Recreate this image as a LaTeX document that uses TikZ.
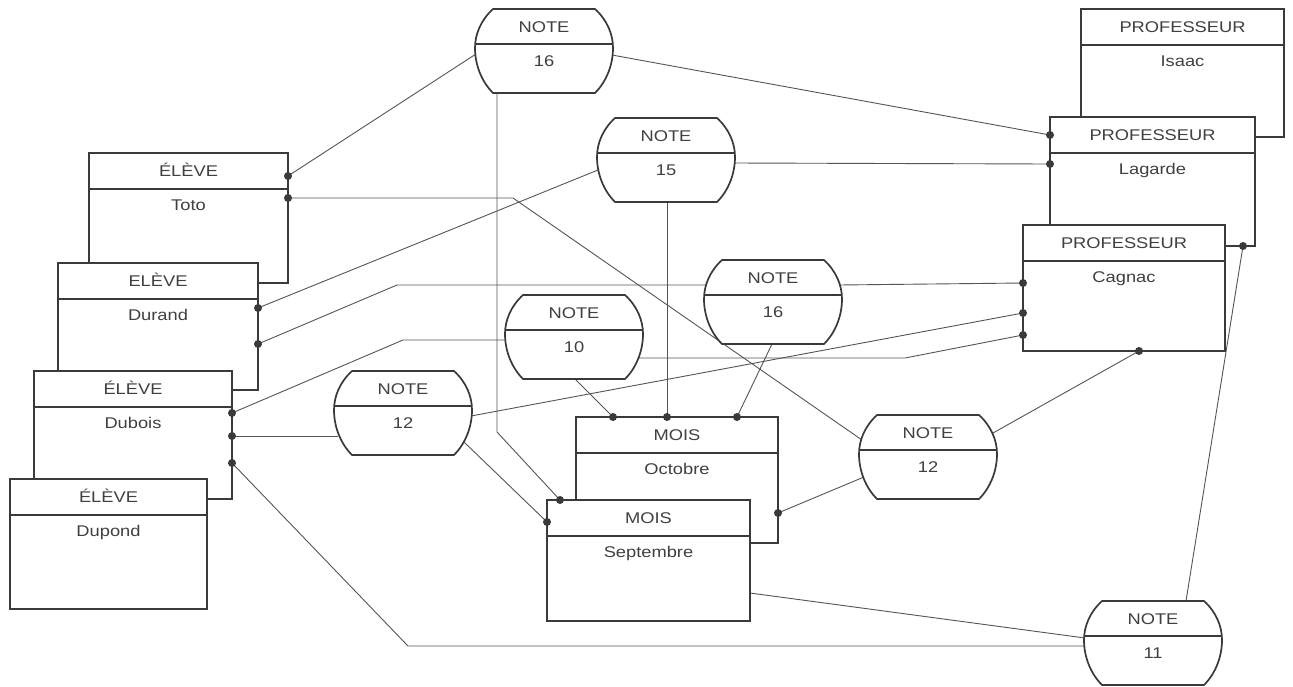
\documentclass[tikz,border=0pt]{standalone}
\usepackage{fontspec}
\setmainfont{Liberation Sans}[FakeStretch=1.18]
\usetikzlibrary{calc}
\pgfdeclarelayer{bg}
\pgfsetlayers{bg,main}
\definecolor{linec}{HTML}{3A3A3A}
\definecolor{connc}{HTML}{555555}
\definecolor{txtc}{HTML}{404040}
\tikzset{
  ebox/.style={draw=linec, line width=1.7, fill=white, rectangle, inner sep=0, outer sep=0, anchor=north west},
  divline/.style={draw=linec, line width=1.1},
  nbord/.style={draw=linec, line width=1.7, fill=white},
  narea/.style={minimum width=138, minimum height=84, inner sep=0, outer sep=0},
  etxt/.style={font=\fontsize{15.5}{18}\selectfont, text=txtc, inner sep=0, anchor=base},
  conn/.style={draw=connc, line width=0.9},
  dotc/.style={fill=linec},
}
\newcommand\mkent[7]{%
  \node[ebox, minimum width={#4-#2}, minimum height={#5-#3}] (#1) at (#2,#3) {};
  \draw[divline] ($(#1.north west)+(0,36)$) -- ($(#1.north east)+(0,36)$);
  \node[etxt] (#1-t) at ($(#1.north)+(0,23)$) {#6};
  \node[etxt] (#1-v) at ($(#1.north)+(0,57)$) {#7};
}
\newcommand\mknote[4]{%
  \node[narea] (#1) at (#2,#3) {};
  \begin{scope}[shift={(#2,#3)}]
    \draw[nbord] (-51,-42) -- (51,-42) .. controls (63,-31) and (69,-17) .. (69,-3)
      .. controls (69,13) and (63,30) .. (51,42) -- (-51,42)
      .. controls (-63,30) and (-69,13) .. (-69,-3)
      .. controls (-69,-17) and (-63,-31) .. cycle;
    \draw[divline] (-68.7,-7) -- (68.7,-7);
    \node[etxt] (#1-t) at (0,-19) {NOTE};
    \node[etxt] (#1-v) at (0,15) {#4};
  \end{scope}
}
\begin{document}
\begin{tikzpicture}[x=1pt,y=-1pt]
\useasboundingbox (0,0) rectangle (1293,686);
\begin{pgfonlayer}{bg}
  \fill[white] (0,0) rectangle (1293,686);
\end{pgfonlayer}
% ELEVE stack
\mkent{toto}{89}{153}{288}{283}{ÉLÈVE}{Toto}
\mkent{durand}{58}{263}{258}{390}{ELÈVE}{Durand}
\mkent{dubois}{34}{371}{232}{499}{ÉLÈVE}{Dubois}
\mkent{dupond}{10}{479}{207}{609}{ÉLÈVE}{Dupond}
% PROFESSEUR stack
\mkent{isaac}{1081}{9}{1284}{137}{PROFESSEUR}{Isaac}
\mkent{lagarde}{1050}{117}{1255}{246}{PROFESSEUR}{Lagarde}
\mkent{cagnac}{1023}{225}{1225}{351}{PROFESSEUR}{Cagnac}
% MOIS stack
\mkent{octobre}{576}{417}{778}{543}{MOIS}{Octobre}
\mkent{septembre}{547}{500}{750}{621}{MOIS}{Septembre}
% NOTES
\mknote{na}{544}{51}{16}
\mknote{nb}{666}{160}{15}
\mknote{nc}{773}{302}{16}
\mknote{nd}{574}{337}{10}
\mknote{ne}{403}{413}{12}
\mknote{nf}{928}{457}{12}
\mknote{ng}{1153}{643}{11}
% attachment points
\coordinate (toto-a) at ($(toto.north east)+(0,23)$);
\coordinate (toto-b) at ($(toto.north east)+(0,45)$);
\coordinate (dur-a) at ($(durand.north east)+(0,45)$);
\coordinate (dur-b) at ($(durand.north east)+(0,81)$);
\coordinate (dub-a) at ($(dubois.north east)+(0,42)$);
\coordinate (dub-b) at ($(dubois.north east)+(0,65)$);
\coordinate (dub-c) at ($(dubois.north east)+(0,92)$);
\coordinate (lag-a) at ($(lagarde.north west)+(0,18)$);
\coordinate (lag-b) at ($(lagarde.north west)+(0,47)$);
\coordinate (lag-c) at ($(lagarde.south east)+(-12,0)$);
\coordinate (cag-a) at ($(cagnac.north west)+(0,58)$);
\coordinate (cag-b) at ($(cagnac.north west)+(0,88)$);
\coordinate (cag-c) at ($(cagnac.north west)+(0,110)$);
\coordinate (cag-d) at ($(cagnac.south west)+(116,0)$);
\coordinate (oct-a) at ($(octobre.north west)+(37,0)$);
\coordinate (oct-b) at ($(octobre.north west)+(91,0)$);
\coordinate (oct-c) at ($(octobre.north west)+(161,0)$);
\coordinate (oct-d) at ($(octobre.north east)+(0,96)$);
\coordinate (sep-a) at ($(septembre.north west)+(13,0)$);
\coordinate (sep-b) at ($(septembre.north west)+(0,22)$);
\coordinate (sep-c) at ($(septembre.north east)+(0,93)$);
% bends
\coordinate (b1) at (513,198);
\coordinate (b2) at (497,432);
\coordinate (b3) at (397,285);
\coordinate (b4) at (403,340);
\coordinate (b5) at (905,358);
\coordinate (b6) at (408,646);
\begin{pgfonlayer}{bg}
  \draw[conn] ($(na)+(-68,3)$) -- (toto-a);
  \draw[conn] ($(na)+(68,4)$) -- (lag-a);
  \draw[conn] ($(na)+(-47,42)$) -- (b2) -- (sep-a);
  \draw[conn] (toto-b) -- (b1) -- ($(nf)+(-66,-17)$);
  \draw[conn] ($(nb)+(-68,10)$) -- (dur-a);
  \draw[conn] ($(nb)+(68,3)$) -- (lag-b);
  \draw[conn] ($(nb)+(1,42)$) -- (oct-b);
  \draw[conn] (dur-b) -- (b3) -- ($(nc)+(-66,-17)$);
  \draw[conn] ($(nc)+(66,-17)$) -- (cag-a);
  \draw[conn] ($(nc)+(-1,42)$) -- (oct-c);
  \draw[conn] (dub-a) -- (b4) -- ($(nd)+(-68,3)$);
  \draw[conn] ($(nd)+(65,21)$) -- (b5) -- (cag-c);
  \draw[conn] ($(nd)+(1,42)$) -- (oct-a);
  \draw[conn] (dub-b) -- ($(ne)+(-65,23)$);
  \draw[conn] ($(ne)+(68,3)$) -- (cag-b);
  \draw[conn] ($(ne)+(61,29)$) -- (sep-b);
  \draw[conn] ($(nf)+(-64,20)$) -- (oct-d);
  \draw[conn] ($(nf)+(65,-24)$) -- (cag-d);
  \draw[conn] (dub-c) -- (b6) -- ($(ng)+(-68,3)$);
  \draw[conn] (sep-c) -- ($(ng)+(-68,-5)$);
  \draw[conn] (lag-c) -- ($(ng)+(33,-42)$);
\end{pgfonlayer}
% dots
\foreach \p in {toto-a,toto-b,dur-a,dur-b,dub-a,dub-b,dub-c,lag-a,lag-b,lag-c,cag-a,cag-b,cag-c,cag-d,oct-a,oct-b,oct-c,oct-d,sep-a,sep-b}
  \fill[dotc] (\p) circle (4);
\end{tikzpicture}
\end{document}
